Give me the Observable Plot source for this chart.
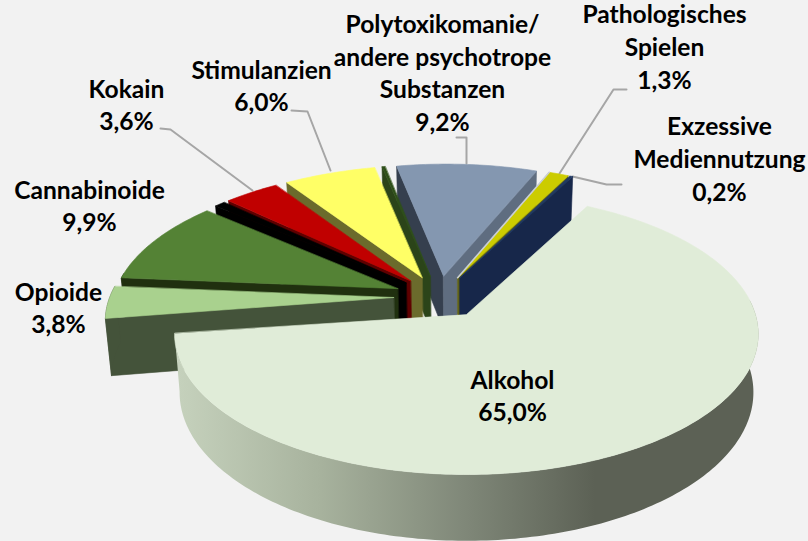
<!DOCTYPE html>
<html><head><meta charset="utf-8">
<script src="https://cdn.jsdelivr.net/npm/d3@7"></script>
<script src="https://cdn.jsdelivr.net/npm/@observablehq/plot@0.6"></script>
<style>html,body{margin:0;padding:0;background:#F2F2F2}svg{display:block}</style>
</head><body><div id="c"></div>
<script>
const names = ["Alkohol","Opioide","Cannabinoide","Sonstige","Kokain","Stimulanzien","Sedativa","Polytoxikomanie/\nandere psychotrope\nSubstanzen","Pathologisches\nSpielen","Exzessive\nMediennutzung"];
const shares = [65.0,3.8,9.9,0.7,3.6,6.0,0.2,9.2,1.3,0.2];
const shown = [true,true,true,false,true,true,false,true,true,true];
const topColors = ["#E0ECD8","#A9D18E","#548235","#000000","#C00000","#FFFF66","#2F5019","#8497B0","#CCCC00","#1F3864"];
const startSide = ["#5C6155","#44533A","#20300F","#000000","#5F0000","#6B6B2C","#2B4419","#353F4E","#6A6A10","#17274A"];
const endSide = ["#5C6155","#44533A","#20300F","#000000","#5F0000","#6B6B2C","#2B4419","#5F6D80","#6A6A10","#17274A"];
const labelX = [512,58,89,0,126,261,0,442,664,719];
const labelY = [394,306,204,0,103,84,0,71,45,157];
const leaders = [
  [[160,128],[170,129],[252,190]],
  [[291,110],[307,111],[330,170]],
  [[456,137],[466,137],[466,163]],
  [[626,89],[613,89],[559,173]],
  [[621,184],[606,184],[572,176]]
];

const k=.14, Rx=289, Ry=137.6, cx=466, cy=314, depth=57, shrink=.017, explode=.16, startDeg=28, restTurn=-1.1, restShift=-.005;
const rad = d=>d*Math.PI/180;
function proj(u,v,z){const w=1+k*v;return {x:cx+Rx*u/w*(1-shrink*z),y:cy-Ry*v/w+z*depth/w};}
const pie = d3.pie().sort(null).startAngle(rad(startDeg)).endAngle(rad(startDeg+360));
const arcs = pie(shares);
const alkMid=(arcs[0].startAngle+arcs[0].endAngle)/2;
const C=[-explode*Math.sin(alkMid),-explode*Math.cos(alkMid)];
const slices = arcs.map((a,i)=>{
  const turn=i===0?0:rad(restTurn);
  const t0=a.startAngle+turn, t1=a.endAngle+turn, m=(t0+t1)/2;
  const ax=C[0]+explode*Math.sin(m)+(i===0?0:restShift), ay=C[1]+explode*Math.cos(m);
  const n=Math.max(2,Math.ceil((t1-t0)/rad(1)));
  const rim=d3.range(n+1).map(j=>{const t=t0+(t1-t0)*j/n;return {p:[ax+Math.sin(t),ay+Math.cos(t)],t};});
  return {i,apex:[ax,ay],rim};
});
const at=(p,z)=>proj(p[0],p[1],z);
const poly=(pts,fill,stroke=fill)=>Plot.line(pts,{x:"x",y:"y",fill,stroke,strokeWidth:0.6,curve:"linear-closed"});

function sliceMarks(s){
  const {i,apex,rim}=s, first=rim[0], last=rim[rim.length-1];
  const marks=[];
  if(Math.sin(first.t)<0) marks.push(poly([at(apex,0),at(first.p,0),at(first.p,1),at(apex,1)],startSide[i]));
  if(Math.sin(last.t)>0) marks.push(poly([at(apex,0),at(last.p,0),at(last.p,1),at(apex,1)],endSide[i]));
  const front=rim.filter(r=>Math.cos(r.t)<0.12);
  if(front.length>1){
    const fill=i===0?"url(#alkWall)":startSide[i];
    marks.push(poly([...front.map(r=>at(r.p,0)),...front.slice().reverse().map(r=>at(r.p,1))],fill,i===0?"none":fill));
  }
  marks.push(poly([at(apex,0),...rim.map(r=>at(r.p,0))],topColors[i]));
  if(i===8) marks.push(Plot.line([at(apex,0),at(first.p,0)],{x:"x",y:"y",stroke:"#C9CED6",strokeWidth:1.6}));
  return marks;
}
const order=[7,6,5,4,3,2,1,8,9,0];
const defs=()=>{
  const d=d3.create("svg:defs");
  const g=d.append("linearGradient").attr("id","alkWall");
  [[0,"#C6D2BD"],[0.25,"#A7B29D"],[0.5,"#7F8778"],[0.72,"#5C6155"],[1,"#5C6155"]].forEach(([o,c])=>g.append("stop").attr("offset",o).attr("stop-color",c));
  return d.node();
};
const labelRows=names.map((n,i)=>({t:n+"\n"+shares[i].toFixed(1).replace(".",",")+"%",x:labelX[i],y:labelY[i],show:shown[i]})).filter(d=>d.show);
const plot=Plot.plot({
  width:808,height:541,margin:0,
  x:{domain:[0,808],range:[0,808],axis:null},
  y:{domain:[0,541],range:[0,541],axis:null},
  style:{background:"#F2F2F2"},
  marks:[
    defs,
    ...leaders.map(l=>Plot.line(l.map(([x,y])=>({x,y})),{x:"x",y:"y",stroke:"#A6A6A6",strokeWidth:2})),
    ...order.flatMap(i=>sliceMarks(slices[i])),
    Plot.text(labelRows,{x:"x",y:"y",text:"t",fill:"#000",fontSize:24.6,fontWeight:700,fontFamily:"Lato",lineHeight:1.33,textAnchor:"middle",lineAnchor:"middle"})
  ]
});
document.getElementById("c").append(plot);
</script></body></html>
